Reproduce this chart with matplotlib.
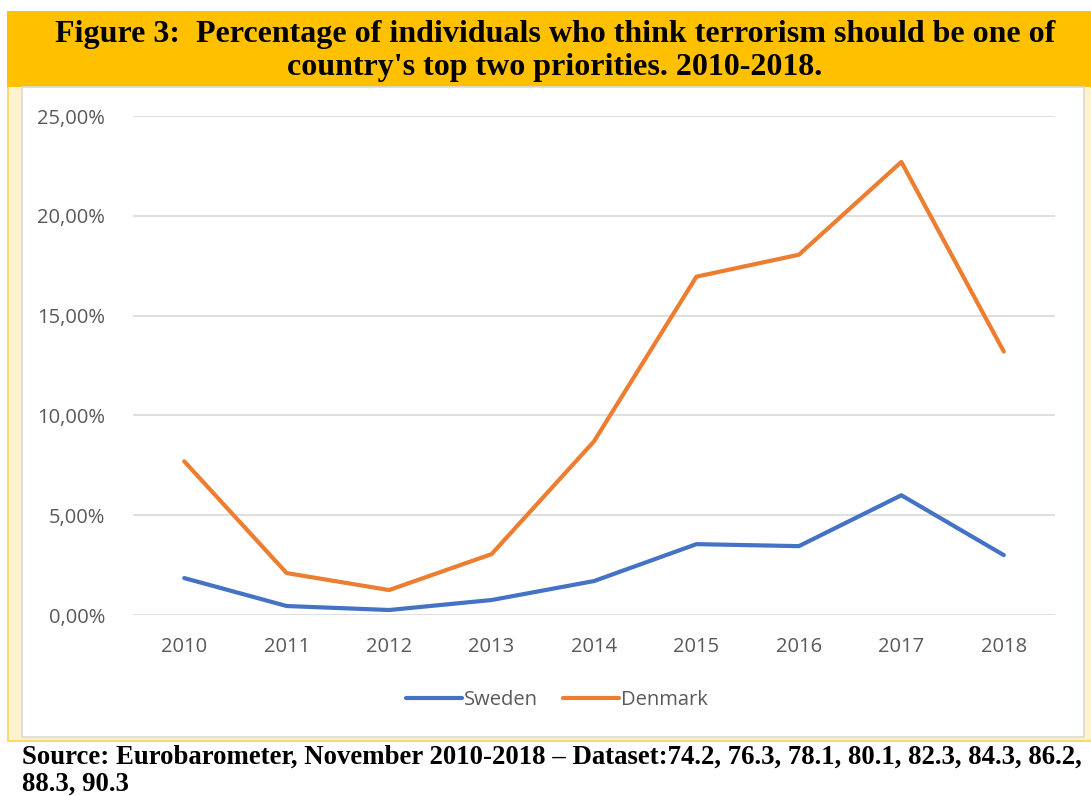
import numpy as np
import matplotlib
matplotlib.use("Agg")
import matplotlib.pyplot as plt
from matplotlib.patches import Rectangle
from matplotlib.ticker import FuncFormatter

years = ["2010", "2011", "2012", "2013", "2014", "2015", "2016", "2017", "2018"]
sweden = [1.85, 0.45, 0.25, 0.75, 1.7, 3.55, 3.45, 6.0, 3.0]
denmark = [7.7, 2.1, 1.25, 3.05, 8.7, 16.95, 18.05, 22.7, 13.2]

W, H = 1091, 796
BLUE = "#4472C4"
ORANGE = "#ED7D31"
GREY = "#595959"


def px_rect(fig, x0, y0, x1, y1, **kw):
    """Rectangle given in pixel coords measured from the top-left corner."""
    fig.patches.append(Rectangle((x0 / W, 1 - y1 / H), (x1 - x0) / W, (y1 - y0) / H,
                                 transform=fig.transFigure, figure=fig, **kw))


fig = plt.figure(figsize=(W / 100, H / 100), dpi=100, facecolor="white")

# frame: title band, pale yellow border, white chart area
px_rect(fig, 7, 11, W, 87, facecolor="#FFC000", edgecolor="none", zorder=-5)
px_rect(fig, 7, 87, W, 741, facecolor="#FFF2CC", edgecolor="none", zorder=-5)
px_rect(fig, 7, 87, 9, 741, facecolor="#FFD966", edgecolor="none", zorder=-5)
px_rect(fig, 7, 740, W, 742, facecolor="#FFD966", edgecolor="none", zorder=-5)
px_rect(fig, 21.5, 87, 1084, 737, facecolor="white", edgecolor="#D9D9D9",
        linewidth=1.2, zorder=-4)

fig.text(555 / W, 1 - 51 / H,
         "Figure 3:  Percentage of individuals who think terrorism should be one of\n"
         "country's top two priorities. 2010-2018.",
         ha="center", va="center", fontsize=23, fontweight="bold",
         family="Liberation Serif", linespacing=1.2)

fig.text(22 / W, 1 - 757 / H,
         "Source: Eurobarometer, November 2010-2018 \u2013 Dataset:74.2, 76.3, 78.1, 80.1, 82.3, 84.3, 86.2,",
         ha="left", va="center", fontsize=19.3, fontweight="bold", family="Liberation Serif")
fig.text(22 / W, 1 - 784 / H, "88.3, 90.3",
         ha="left", va="center", fontsize=19.3, fontweight="bold", family="Liberation Serif")

ax = fig.add_axes([133 / W, 1 - 615 / H, (1055 - 133) / W, (615 - 116) / H])
ax.set_zorder(2)
ax.set_facecolor("none")
x = np.arange(len(years))
ax.plot(x, sweden, color=BLUE, linewidth=3, label="Sweden", solid_capstyle="round", zorder=3)
ax.plot(x, denmark, color=ORANGE, linewidth=3, label="Denmark", solid_capstyle="round", zorder=3)

ax.set_xlim(-0.5, len(years) - 0.5)
ax.set_ylim(0, 25)
ax.set_yticks(np.arange(0, 26, 5))
ax.yaxis.set_major_formatter(FuncFormatter(lambda v, p: f"{v:.2f}".replace(".", ",") + "%"))
ax.set_xticks(x)
ax.set_xticklabels(years)
ax.grid(axis="y", color="#D9D9D9", linewidth=1.2, zorder=0)
for s in ax.spines.values():
    s.set_visible(False)
ax.tick_params(length=0, labelsize=14.5, labelcolor=GREY, pad=0)
ax.tick_params(axis="y", pad=20)
ax.tick_params(axis="x", pad=16)
for lab in ax.get_xticklabels() + ax.get_yticklabels():
    lab.set_family("Open Sans")

leg = ax.legend(loc="center", bbox_to_anchor=(557 / W, 1 - 700 / H),
                bbox_transform=fig.transFigure, ncol=2, frameon=False,
                handlelength=2.75, handletextpad=0.12, columnspacing=1.25,
                prop={"family": "Open Sans", "size": 14.5})
for t in leg.get_texts():
    t.set_color(GREY)

fig.savefig("out.png", dpi=100, facecolor="white")
